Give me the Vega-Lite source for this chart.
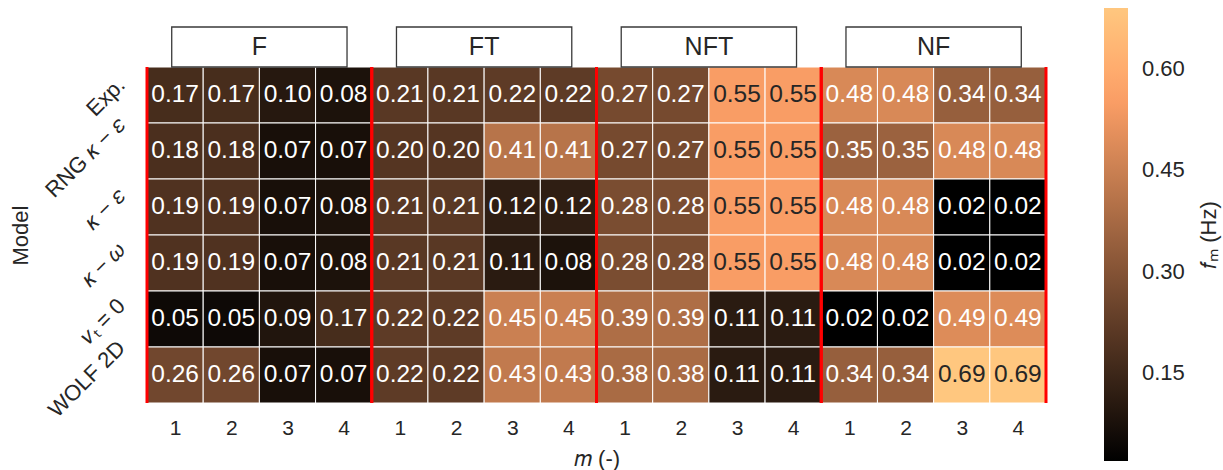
{
  "$schema": "https://vega.github.io/schema/vega-lite/v6.json",
  "width": 899,
  "height": 376,
  "autosize": {"type": "none"},
  "padding": {"left": 147, "top": 27, "right": 177, "bottom": 67},
  "background": "white",
  "config": {
    "view": {"stroke": null},
    "font": "Liberation Sans",
    "axis": {"domain": false, "ticks": false, "grid": false, "labelColor": "#262626", "titleColor": "#262626", "titleFontWeight": "normal", "labelFont": "Liberation Sans", "titleFont": "Liberation Sans"}
  },
  "datasets": {
    "cells": [
      {"model": "Exp.", "group": "F", "m": 1, "v": 0.17}, {"model": "Exp.", "group": "F", "m": 2, "v": 0.17}, {"model": "Exp.", "group": "F", "m": 3, "v": 0.10}, {"model": "Exp.", "group": "F", "m": 4, "v": 0.08},
      {"model": "Exp.", "group": "FT", "m": 1, "v": 0.21}, {"model": "Exp.", "group": "FT", "m": 2, "v": 0.21}, {"model": "Exp.", "group": "FT", "m": 3, "v": 0.22}, {"model": "Exp.", "group": "FT", "m": 4, "v": 0.22},
      {"model": "Exp.", "group": "NFT", "m": 1, "v": 0.27}, {"model": "Exp.", "group": "NFT", "m": 2, "v": 0.27}, {"model": "Exp.", "group": "NFT", "m": 3, "v": 0.55}, {"model": "Exp.", "group": "NFT", "m": 4, "v": 0.55},
      {"model": "Exp.", "group": "NF", "m": 1, "v": 0.48}, {"model": "Exp.", "group": "NF", "m": 2, "v": 0.48}, {"model": "Exp.", "group": "NF", "m": 3, "v": 0.34}, {"model": "Exp.", "group": "NF", "m": 4, "v": 0.34},

      {"model": "RNG κ − ε", "group": "F", "m": 1, "v": 0.18}, {"model": "RNG κ − ε", "group": "F", "m": 2, "v": 0.18}, {"model": "RNG κ − ε", "group": "F", "m": 3, "v": 0.07}, {"model": "RNG κ − ε", "group": "F", "m": 4, "v": 0.07},
      {"model": "RNG κ − ε", "group": "FT", "m": 1, "v": 0.20}, {"model": "RNG κ − ε", "group": "FT", "m": 2, "v": 0.20}, {"model": "RNG κ − ε", "group": "FT", "m": 3, "v": 0.41}, {"model": "RNG κ − ε", "group": "FT", "m": 4, "v": 0.41},
      {"model": "RNG κ − ε", "group": "NFT", "m": 1, "v": 0.27}, {"model": "RNG κ − ε", "group": "NFT", "m": 2, "v": 0.27}, {"model": "RNG κ − ε", "group": "NFT", "m": 3, "v": 0.55}, {"model": "RNG κ − ε", "group": "NFT", "m": 4, "v": 0.55},
      {"model": "RNG κ − ε", "group": "NF", "m": 1, "v": 0.35}, {"model": "RNG κ − ε", "group": "NF", "m": 2, "v": 0.35}, {"model": "RNG κ − ε", "group": "NF", "m": 3, "v": 0.48}, {"model": "RNG κ − ε", "group": "NF", "m": 4, "v": 0.48},

      {"model": "κ − ε", "group": "F", "m": 1, "v": 0.19}, {"model": "κ − ε", "group": "F", "m": 2, "v": 0.19}, {"model": "κ − ε", "group": "F", "m": 3, "v": 0.07}, {"model": "κ − ε", "group": "F", "m": 4, "v": 0.08},
      {"model": "κ − ε", "group": "FT", "m": 1, "v": 0.21}, {"model": "κ − ε", "group": "FT", "m": 2, "v": 0.21}, {"model": "κ − ε", "group": "FT", "m": 3, "v": 0.12}, {"model": "κ − ε", "group": "FT", "m": 4, "v": 0.12},
      {"model": "κ − ε", "group": "NFT", "m": 1, "v": 0.28}, {"model": "κ − ε", "group": "NFT", "m": 2, "v": 0.28}, {"model": "κ − ε", "group": "NFT", "m": 3, "v": 0.55}, {"model": "κ − ε", "group": "NFT", "m": 4, "v": 0.55},
      {"model": "κ − ε", "group": "NF", "m": 1, "v": 0.48}, {"model": "κ − ε", "group": "NF", "m": 2, "v": 0.48}, {"model": "κ − ε", "group": "NF", "m": 3, "v": 0.02}, {"model": "κ − ε", "group": "NF", "m": 4, "v": 0.02},

      {"model": "κ − ω", "group": "F", "m": 1, "v": 0.19}, {"model": "κ − ω", "group": "F", "m": 2, "v": 0.19}, {"model": "κ − ω", "group": "F", "m": 3, "v": 0.07}, {"model": "κ − ω", "group": "F", "m": 4, "v": 0.08},
      {"model": "κ − ω", "group": "FT", "m": 1, "v": 0.21}, {"model": "κ − ω", "group": "FT", "m": 2, "v": 0.21}, {"model": "κ − ω", "group": "FT", "m": 3, "v": 0.11}, {"model": "κ − ω", "group": "FT", "m": 4, "v": 0.08},
      {"model": "κ − ω", "group": "NFT", "m": 1, "v": 0.28}, {"model": "κ − ω", "group": "NFT", "m": 2, "v": 0.28}, {"model": "κ − ω", "group": "NFT", "m": 3, "v": 0.55}, {"model": "κ − ω", "group": "NFT", "m": 4, "v": 0.55},
      {"model": "κ − ω", "group": "NF", "m": 1, "v": 0.48}, {"model": "κ − ω", "group": "NF", "m": 2, "v": 0.48}, {"model": "κ − ω", "group": "NF", "m": 3, "v": 0.02}, {"model": "κ − ω", "group": "NF", "m": 4, "v": 0.02},

      {"model": "νₜ = 0", "group": "F", "m": 1, "v": 0.05}, {"model": "νₜ = 0", "group": "F", "m": 2, "v": 0.05}, {"model": "νₜ = 0", "group": "F", "m": 3, "v": 0.09}, {"model": "νₜ = 0", "group": "F", "m": 4, "v": 0.17},
      {"model": "νₜ = 0", "group": "FT", "m": 1, "v": 0.22}, {"model": "νₜ = 0", "group": "FT", "m": 2, "v": 0.22}, {"model": "νₜ = 0", "group": "FT", "m": 3, "v": 0.45}, {"model": "νₜ = 0", "group": "FT", "m": 4, "v": 0.45},
      {"model": "νₜ = 0", "group": "NFT", "m": 1, "v": 0.39}, {"model": "νₜ = 0", "group": "NFT", "m": 2, "v": 0.39}, {"model": "νₜ = 0", "group": "NFT", "m": 3, "v": 0.11}, {"model": "νₜ = 0", "group": "NFT", "m": 4, "v": 0.11},
      {"model": "νₜ = 0", "group": "NF", "m": 1, "v": 0.02}, {"model": "νₜ = 0", "group": "NF", "m": 2, "v": 0.02}, {"model": "νₜ = 0", "group": "NF", "m": 3, "v": 0.49}, {"model": "νₜ = 0", "group": "NF", "m": 4, "v": 0.49},

      {"model": "WOLF 2D", "group": "F", "m": 1, "v": 0.26}, {"model": "WOLF 2D", "group": "F", "m": 2, "v": 0.26}, {"model": "WOLF 2D", "group": "F", "m": 3, "v": 0.07}, {"model": "WOLF 2D", "group": "F", "m": 4, "v": 0.07},
      {"model": "WOLF 2D", "group": "FT", "m": 1, "v": 0.22}, {"model": "WOLF 2D", "group": "FT", "m": 2, "v": 0.22}, {"model": "WOLF 2D", "group": "FT", "m": 3, "v": 0.43}, {"model": "WOLF 2D", "group": "FT", "m": 4, "v": 0.43},
      {"model": "WOLF 2D", "group": "NFT", "m": 1, "v": 0.38}, {"model": "WOLF 2D", "group": "NFT", "m": 2, "v": 0.38}, {"model": "WOLF 2D", "group": "NFT", "m": 3, "v": 0.11}, {"model": "WOLF 2D", "group": "NFT", "m": 4, "v": 0.11},
      {"model": "WOLF 2D", "group": "NF", "m": 1, "v": 0.34}, {"model": "WOLF 2D", "group": "NF", "m": 2, "v": 0.34}, {"model": "WOLF 2D", "group": "NF", "m": 3, "v": 0.69}, {"model": "WOLF 2D", "group": "NF", "m": 4, "v": 0.69}
    ],
    "groups": [{"group": "F"}, {"group": "FT"}, {"group": "NFT"}, {"group": "NF"}]
  },
  "layer": [
    {
      "data": {"name": "cells"},
      "transform": [
        {"calculate": "indexof(['F','FT','NFT','NF'], datum.group) * 4 + datum.m - 1", "as": "c0"},
        {"calculate": "datum.c0 + 1", "as": "c1"},
        {"calculate": "indexof(['Exp.','RNG κ − ε','κ − ε','κ − ω','νₜ = 0','WOLF 2D'], datum.model)", "as": "r0"},
        {"calculate": "datum.r0 + 1", "as": "r1"}
      ],
      "mark": {"type": "rect", "stroke": "white", "strokeWidth": 1},
      "encoding": {
        "x": {
          "field": "c0", "type": "quantitative",
          "scale": {"domain": [0, 16], "nice": false, "zero": false},
          "axis": {
            "values": [0.5, 1.5, 2.5, 3.5, 4.5, 5.5, 6.5, 7.5, 8.5, 9.5, 10.5, 11.5, 12.5, 13.5, 14.5, 15.5],
            "labelExpr": "'' + ((floor(datum.value) % 4) + 1)",
            "labelFontSize": 21, "labelPadding": 14,
            "title": "𝑚 (-)", "titleFontSize": 22, "titleY": 62, "titleBaseline": "alphabetic"
          }
        },
        "x2": {"field": "c1"},
        "y": {
          "field": "r0", "type": "quantitative",
          "scale": {"domain": [-0.7143, 6], "reverse": true, "nice": false, "zero": false},
          "axis": {
            "values": [0.5, 1.5, 2.5, 3.5, 4.5, 5.5],
            "labelExpr": "['Exp.','RNG 𝜅 − 𝜀','𝜅 − 𝜀','𝜅 − 𝜔','𝜈ₜ = 0','WOLF 2D'][floor(datum.value)]",
            "labelAngle": -45, "labelAlign": "right", "labelBaseline": "middle", "labelOverlap": false, "labelBound": false,
            "labelFontSize": 22, "labelPadding": 26,
            "labelOffset": {
              "condition": [
                {"test": "datum.value < 1", "value": -14},
                {"test": "datum.value < 2", "value": -30},
                {"test": "datum.value < 3", "value": -15},
                {"test": "datum.value < 4", "value": -17},
                {"test": "datum.value < 5", "value": -17}
              ],
              "value": -31
            },
            "title": "Model", "titleFontSize": 22, "titleX": -127, "titleY": 208, "titleAngle": 270, "titleBaseline": "middle", "titleAlign": "center"
          }
        },
        "y2": {"field": "r1"},
        "color": {
          "field": "v", "type": "quantitative",
          "scale": {"domain": [0.02, 0.5624, 0.69], "range": ["#000000", "#ffa167", "#ffc77f"], "interpolate": "rgb"},
          "legend": {
            "orient": "none", "legendX": 957, "legendY": -19, "direction": "vertical",
            "gradientLength": 453, "gradientThickness": 24, "gradientStrokeWidth": 0,
            "values": [0.15, 0.3, 0.45, 0.6], "format": ".2f",
            "labelFontSize": 22, "labelOffset": 14, "labelColor": "#262626", "labelFont": "Liberation Sans",
            "title": "𝑓ₘ (Hz)", "titleOrient": "right", "titleAnchor": "middle",
            "titleFontSize": 22, "titleFontWeight": "normal", "titleColor": "#262626", "titleFont": "Liberation Sans", "titlePadding": 36,
            "encode": {"title": {"update": {"angle": {"value": 270}}}},
            "padding": 0
          }
        }
      }
    },
    {
      "data": {"name": "cells"},
      "transform": [
        {"calculate": "indexof(['F','FT','NFT','NF'], datum.group) * 4 + datum.m - 0.5", "as": "cm"},
        {"calculate": "indexof(['Exp.','RNG κ − ε','κ − ε','κ − ω','νₜ = 0','WOLF 2D'], datum.model) + 0.5", "as": "rm"}
      ],
      "mark": {"type": "text", "fontSize": 24.5, "font": "Liberation Sans", "baseline": "middle", "align": "center"},
      "encoding": {
        "x": {"field": "cm", "type": "quantitative", "scale": {"domain": [0, 16], "nice": false, "zero": false}},
        "y": {"field": "rm", "type": "quantitative", "scale": {"domain": [-0.7143, 6], "reverse": true, "nice": false, "zero": false}},
        "text": {"field": "v", "type": "quantitative", "format": ".2f"},
        "color": {"condition": {"test": "datum.v > 0.5", "value": "#262626"}, "value": "white"}
      }
    },
    {
      "data": {"name": "cells"},
      "transform": [
        {"filter": "datum.m == 1 || datum.m == 4"},
        {"calculate": "indexof(['F','FT','NFT','NF'], datum.group) * 4 + (datum.m == 1 ? 0 : 4)", "as": "edge"},
        {"calculate": "indexof(['Exp.','RNG κ − ε','κ − ε','κ − ω','νₜ = 0','WOLF 2D'], datum.model)", "as": "r0"},
        {"calculate": "datum.r0 + 1", "as": "r1"}
      ],
      "mark": {"type": "rule", "color": "#ff0000", "strokeWidth": 3},
      "encoding": {
        "x": {"field": "edge", "type": "quantitative", "scale": {"domain": [0, 16], "nice": false, "zero": false}},
        "y": {"field": "r0", "type": "quantitative", "scale": {"domain": [-0.7143, 6], "reverse": true, "nice": false, "zero": false}},
        "y2": {"field": "r1"}
      }
    },
    {
      "data": {"name": "groups"},
      "transform": [
        {"calculate": "indexof(['F','FT','NFT','NF'], datum.group) * 4 + 0.44", "as": "g0"},
        {"calculate": "indexof(['F','FT','NFT','NF'], datum.group) * 4 + 3.56", "as": "g1"}
      ],
      "mark": {"type": "rect", "fill": "white", "stroke": "#3a3a3a", "strokeWidth": 1.3},
      "encoding": {
        "x": {"field": "g0", "type": "quantitative", "scale": {"domain": [0, 16], "nice": false, "zero": false}},
        "x2": {"field": "g1"},
        "y": {"datum": -0.7143, "type": "quantitative", "scale": {"domain": [-0.7143, 6], "reverse": true, "nice": false, "zero": false}},
        "y2": {"datum": 0}
      }
    },
    {
      "data": {"name": "groups"},
      "transform": [
        {"calculate": "indexof(['F','FT','NFT','NF'], datum.group) * 4 + 2", "as": "gc"}
      ],
      "mark": {"type": "text", "fontSize": 25, "font": "Liberation Sans", "color": "#262626", "baseline": "middle", "align": "center"},
      "encoding": {
        "x": {"field": "gc", "type": "quantitative", "scale": {"domain": [0, 16], "nice": false, "zero": false}},
        "y": {"datum": -0.357, "type": "quantitative", "scale": {"domain": [-0.7143, 6], "reverse": true, "nice": false, "zero": false}},
        "text": {"field": "group"}
      }
    }
  ]
}
